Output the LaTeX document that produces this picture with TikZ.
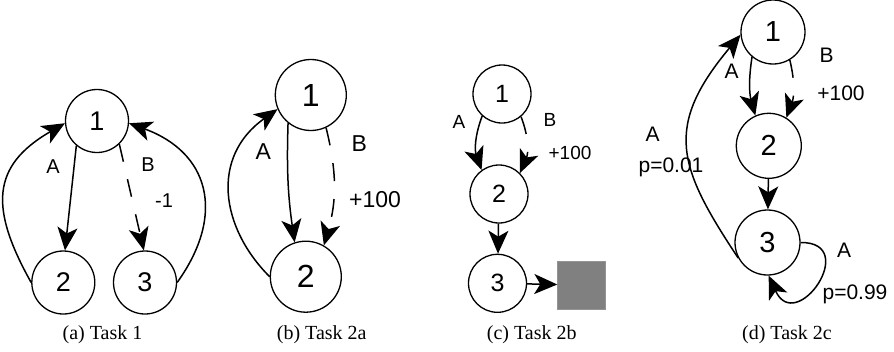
\documentclass[tikz,border=0pt]{standalone}
\usepackage{fontspec}
\setmainfont{Liberation Sans}
\newfontfamily\capfont{Liberation Serif}
\usetikzlibrary{arrows.meta}
\tikzset{
  st/.style={circle,draw,line width=1.3pt,inner sep=0pt,minimum size=#1},
  arr/.style={line width=1.5pt,-{Stealth[length=23pt,width=20pt,inset=6pt]}},
  dsh/.style={arr,dash pattern=on 18pt off 18pt},
  fa/.style={font=\fontsize{27}{32}\selectfont},
  fb/.style={font=\fontsize{32}{38}\selectfont},
  fc/.style={font=\fontsize{25}{30}\selectfont},
  fd/.style={font=\fontsize{29}{34}\selectfont},
  la/.style={inner sep=0pt,font=\fontsize{20}{24}\selectfont},
  lb/.style={inner sep=0pt,font=\fontsize{23}{27}\selectfont},
  lc/.style={inner sep=0pt,font=\fontsize{19}{23}\selectfont},
  ld/.style={inner sep=0pt,font=\fontsize{21}{25}\selectfont},
  captxt/.style={inner sep=0pt,font=\capfont\fontsize{20}{24}\selectfont}
}
\begin{document}
\begin{tikzpicture}[x=1pt,y=-1pt]
\useasboundingbox[fill=white] (0,0) rectangle (894,351);
% ---------- (a) ----------
\node[st=63pt,fa] (a1) at (97,121) {1};
\node[st=63pt,fa] (a2) at (63.3,282.5) {2};
\node[st=63pt,fa] (a3) at (145,282.5) {3};
\draw[arr] (a1.230) -- (a2.87);
\draw[dsh] (a1.314) -- (a3.92);
\draw[arr] (a2.west) .. controls (-10.5,208) and (-8.8,165.8) .. (a1.184);
\draw[arr] (a3.east) .. controls (227,213) and (208,152) .. (a1.-4);
\node[la] (aA) at (53,167) {A};
\node[la] (aB) at (148,165) {B};
\node[la] (aR) at (164,201) {-1};
\node[captxt] (capa) at (102.5,335) {(a) Task 1};
% ---------- (b) ----------
\node[st=71pt,fb] (b1) at (310.8,95) {1};
\node[st=71pt,fb] (b2) at (305.8,276.7) {2};
\draw[arr] (b1.231) to[bend right=5] (b2.108);
\draw[dsh] (b1.295) to[bend left=15] (b2.60);
\draw[arr] (b2.west) .. controls (220.5,227.5) and (210.3,157) .. (b1.203);
\node[lb] (bA) at (263.3,151.7) {A};
\node[lb] (bB) at (359.3,143.3) {B};
\node[lb] (bR) at (375,199.3) {+100};
\node[captxt] (capb) at (321.7,335) {(b) Task 2a};
% ---------- (c) ----------
\node[st=58pt,fc] (c1) at (502,94) {1};
\node[st=58pt,fc] (c2) at (499,194) {2};
\node[st=58pt,fc] (c3) at (497.5,283.3) {3};
\node[draw=gray!85,fill=gray,minimum size=48pt,inner sep=0pt] (sq) at (581.5,285) {};
\draw[arr] (c1.228) to[bend right=20] (c2.126);
\draw[dsh] (c1.310) to[bend left=22] (c2.45);
\draw[arr] (c2) -- (c3);
\draw[arr] (c3) -- (sq);
\node[lc] (cA) at (459,122) {A};
\node[lc] (cB) at (550,120) {B};
\node[lc] (cR) at (570,153) {+100};
\node[captxt] (capc) at (531.7,335) {(c) Task 2b};
% ---------- (d) ----------
\node[st=64pt,fd] (d1) at (773,32) {1};
\node[st=65pt,fd] (d2) at (768.8,145.8) {2};
\node[st=65pt,fd] (d3) at (767.5,242.5) {3};
\draw[arr] (d1.230) to[bend right=12] (d2.114);
\draw[dsh] (d1.301) to[bend left=17] (d2.58);
\draw[arr] (d2) -- (d3);
\draw[arr] (d3.208) .. controls (677.6,166.6) and (663.5,126.9) .. (d1.185);
\draw[arr] (d3.east) .. controls (861,242) and (796,336) .. (d3.272);
\node[ld] (dA1) at (731.7,71.7) {A};
\node[ld] (dB) at (826.7,55) {B};
\node[ld] (dR) at (841,93.3) {+100};
\node[ld] (dA2) at (652.5,134) {A};
\node[ld] (dP1) at (671,167) {p=0.01};
\node[ld] (dA3) at (844,250) {A};
\node[ld] (dP2) at (855,294) {p=0.99};
\node[captxt] (capd) at (787,335) {(d) Task 2c};
\end{tikzpicture}
\end{document}
